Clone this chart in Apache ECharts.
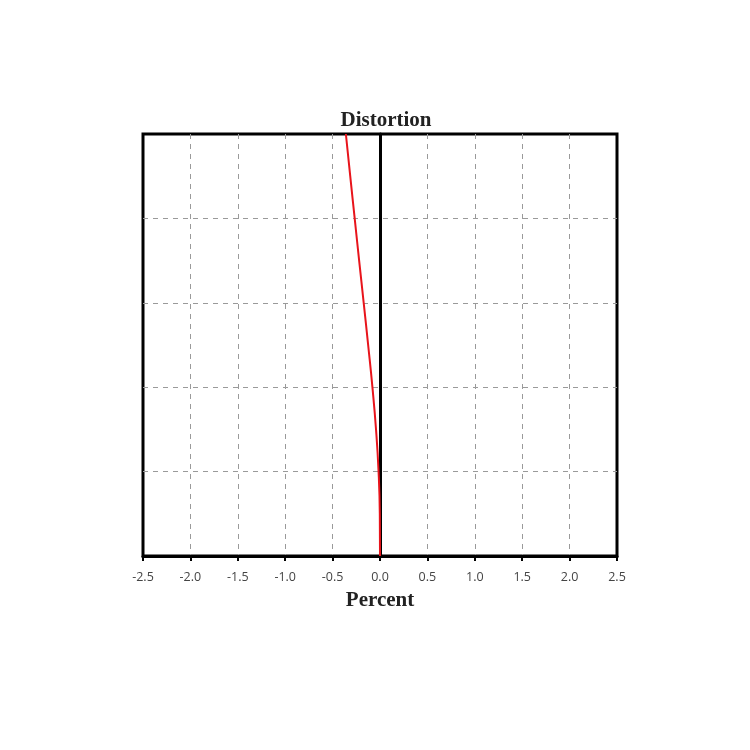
<!DOCTYPE html>
<html>
<head>
<meta charset="utf-8">
<script src="https://cdn.jsdelivr.net/npm/echarts@6/dist/echarts.min.js"></script>
<style>html,body{margin:0;padding:0;background:#fff;}#c{width:750px;height:750px;}</style>
</head>
<body>
<div id="c"></div>
<script>
var fieldHeight = [0, 0.1, 0.2, 0.3, 0.4, 0.5, 0.6, 0.7, 0.8, 0.9, 1.0];
var distortion = [0, -0.002, -0.015, -0.042, -0.08, -0.125, -0.172, -0.22, -0.267, -0.314, -0.36];
var xTicks = [-2.5, -2.0, -1.5, -1.0, -0.5, 0.0, 0.5, 1.0, 1.5, 2.0, 2.5];

var chart = echarts.init(document.getElementById('c'));
var data = fieldHeight.map(function (h, i) { return [distortion[i], h]; });
var splitStyle = { color: '#9a9a9a', type: [5, 5], width: 1 };
chart.setOption({
  animation: false,
  backgroundColor: '#fff',
  title: {
    text: 'Distortion', left: 381, top: 105, textAlign: 'center',
    textStyle: { fontFamily: 'Liberation Serif', fontWeight: 'bold', fontSize: 21, color: '#222' }
  },
  grid: { left: 143, right: 133, top: 134, bottom: 194, show: true, borderColor: '#000', borderWidth: 3, backgroundColor: 'transparent' },
  xAxis: {
    type: 'value', min: -2.5, max: 2.5, interval: 0.5,
    name: 'Percent', nameLocation: 'middle', nameGap: 34,
    nameTextStyle: { fontFamily: 'Liberation Serif', fontWeight: 'bold', fontSize: 21, color: '#222' },
    axisLine: { show: true, onZero: false, lineStyle: { color: '#000', width: 3 } },
    axisTick: { show: true, length: 5, lineStyle: { color: '#000', width: 2 } },
    axisLabel: { fontFamily: 'Open Sans', fontSize: 12.5, color: '#444', margin: 15,
      formatter: function (v) { return v.toFixed(1); } },
    splitLine: { show: true, showMinLine: false, showMaxLine: false, lineStyle: splitStyle }
  },
  yAxis: {
    type: 'value', min: 0, max: 1, interval: 0.2,
    axisLine: { show: true, onZero: true, lineStyle: { color: '#000', width: 3 } },
    axisTick: { show: false },
    axisLabel: { show: false },
    splitLine: { show: true, showMinLine: false, showMaxLine: false, lineStyle: splitStyle }
  },
  series: [{
    type: 'line', data: data, smooth: true, showSymbol: false, z: 5,
    lineStyle: { color: '#e8141b', width: 2 }
  }]
});
</script>
</body>
</html>
